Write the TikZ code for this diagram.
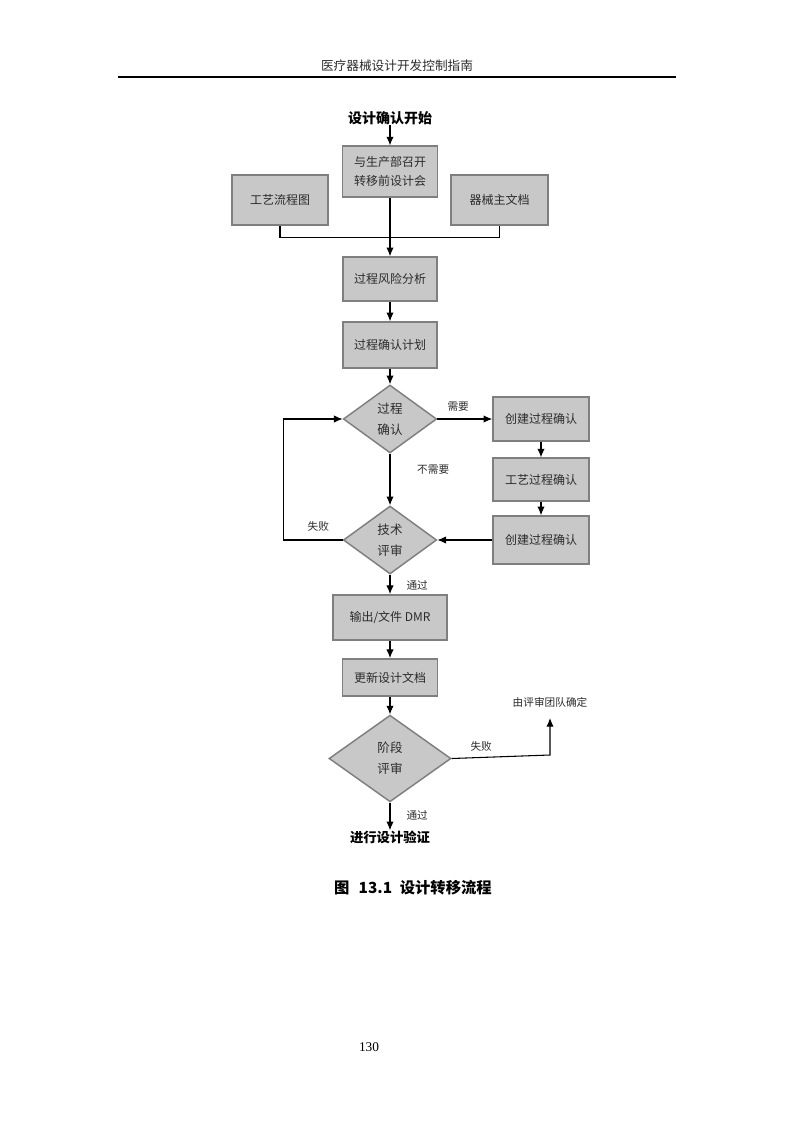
\documentclass[tikz,border=0pt]{standalone}
\usepackage{fontspec}
\setmainfont{Noto Sans CJK SC}
\newfontfamily\numfont{Liberation Serif}
\usetikzlibrary{shapes.geometric,arrows.meta}

\definecolor{boxfill}{HTML}{C8C8C8}
\definecolor{boxline}{HTML}{7F7F7F}
\definecolor{txt}{HTML}{2B2B2B}

\tikzset{
  procbox/.style={draw=boxline, fill=boxfill, line width=1.1pt, text=txt,
    inner sep=0pt, align=center, font=\fontsize{9}{14}\selectfont},
  decide/.style={diamond, draw=boxline, fill=boxfill, line width=1.1pt, text=txt,
    inner sep=0pt, align=center, font=\fontsize{9.4}{15.5}\selectfont},
  lbl/.style={text=txt, inner sep=0pt, font=\fontsize{8}{10}\selectfont},
  ends/.style={inner sep=0pt, font=\fontsize{10.5}{12}\selectfont\bfseries},
  arr/.style={-{Latex[length=6.5pt,width=5.5pt]}, line width=0.8pt},
  ln/.style={line width=0.8pt}
}

\begin{document}
\begin{tikzpicture}[x=0.75pt, y=-0.75pt]
\useasboundingbox (0,0) rectangle (794,1123);

% Page header
\node[font=\fontsize{9.5}{11}\selectfont, text=txt] (head) at (397,66) {医疗器械设计开发控制指南};
\draw[line width=0.8pt] (118,77) -- (676,77);

% Start and meeting
\node[ends] (start) at (390,118) {设计确认开始};
\node[procbox, minimum width=71pt, minimum height=38pt] (meet) at (390,171.5) {与生产部召开\\转移前设计会};
\node[procbox, minimum width=72pt, minimum height=37.5pt] (flow) at (280,200) {工艺流程图};
\node[procbox, minimum width=72.5pt, minimum height=37.5pt] (mdoc) at (499.5,200) {器械主文档};

% Process analysis
\node[procbox, minimum width=70.5pt, minimum height=33pt] (risk) at (390,279) {过程风险分析};
\node[procbox, minimum width=70.5pt, minimum height=34.5pt] (plan) at (390,345) {过程确认计划};

% Validation loop
\node[decide, minimum width=70pt, minimum height=51pt] (pv) at (390,419) {过程\\确认};
\node[procbox, minimum width=72pt, minimum height=33pt] (make1) at (541,419) {创建过程确认};
\node[procbox, minimum width=72pt, minimum height=32pt] (craft) at (541,479.5) {工艺过程确认};
\node[procbox, minimum width=72pt, minimum height=36pt] (make2) at (541,540) {创建过程确认};
\node[decide, minimum width=70pt, minimum height=51pt] (tech) at (390,540) {技术\\评审};

% Output and stage review
\node[procbox, minimum width=85.5pt, minimum height=34pt] (dmr) at (390,617.5) {输出/文件 DMR};
\node[procbox, minimum width=71pt, minimum height=28pt] (upd) at (390,677.5) {更新设计文档};
\node[decide, minimum width=91.5pt, minimum height=65pt] (stage) at (390,758.5) {阶段\\评审};
\node[lbl] (team) at (550,702) {由评审团队确定};
\coordinate (teamin) at (550,718);
\coordinate (bend) at (550,755);
\node[ends, font=\fontsize{10}{12}\selectfont\bfseries] (verify) at (390,837) {进行设计验证};

% Connectors
\draw[arr] (start) -- (meet);
\draw[arr] (meet) -- (risk);
\draw[ln] (flow.south) -- ++(0,12) -| (mdoc.south);
\draw[arr] (risk) -- (plan);
\draw[arr] (plan) -- (pv);
\draw[arr] (pv.east) -- node[lbl, above=5pt, xshift=-5pt] (need) {需要} (make1.west);
\draw[arr] (make1) -- (craft);
\draw[arr] (craft) -- (make2);
\draw[arr] (make2.west) -- (tech.east);
\draw[arr] (pv.south) -- node[lbl, right=20pt, pos=0.3] (noneed) {不需要} (tech.north);
\draw[arr] (tech.west) -- ++(-59,0) node[lbl, above=6pt, xshift=26pt] (fail1) {失败} |- (pv.west);
\draw[arr] (tech.south) -- node[lbl, right=12pt, pos=0.55] (pass1) {通过} (dmr.north);
\draw[arr] (dmr) -- (upd);
\draw[arr] (upd) -- (stage);
\draw[arr] (stage.east) -- node[lbl, above=4pt, pos=0.3] (fail2) {失败} (bend) -- (teamin);
\draw[arr] (stage.south) -- node[lbl, right=12pt, pos=0.45] (pass2) {通过} (verify.north);

% Caption and page number
\node[font=\fontsize{11.5}{13}\selectfont\bfseries] (cap) at (413,888) {图\hspace{0.6em}13.1\hspace{0.5em}设计转移流程};
\node[font=\numfont\fontsize{10}{12}\selectfont] (page) at (369,1047) {130};
\end{tikzpicture}
\end{document}
